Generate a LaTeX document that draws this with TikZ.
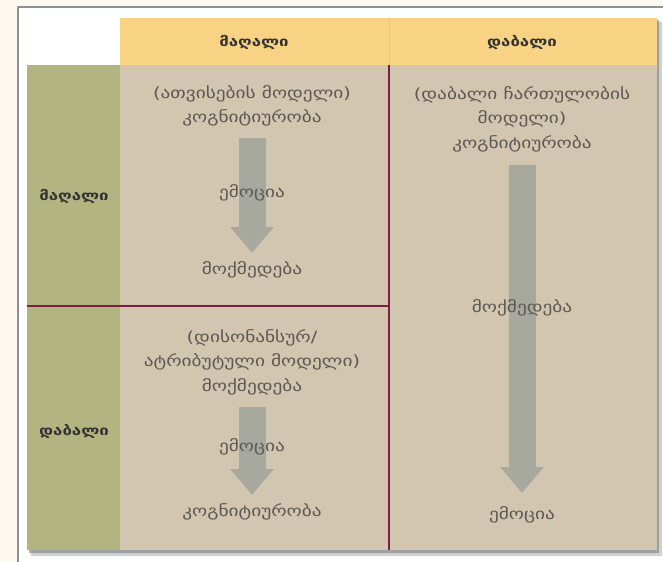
\documentclass[tikz,border=0pt]{standalone}
\usepackage{fontspec}
\setmainfont{DejaVu Sans}
\newfontfamily\geowide[FakeStretch=1.25]{DejaVu Sans}
\usepackage{tikz}
\usetikzlibrary{arrows.meta,positioning}

\definecolor{pagecream}{HTML}{FDF9F1}
\definecolor{framegrey}{HTML}{8E9093}
\definecolor{headyellow}{HTML}{F8D383}
\definecolor{rowgreen}{HTML}{B2B57F}
\definecolor{celltan}{HTML}{D3C6B1}
\definecolor{linemaroon}{HTML}{7D1F40}
\definecolor{arrowgrey}{HTML}{A7A99F}
\definecolor{celltext}{HTML}{5C5853}
\definecolor{shadowgrey}{HTML}{7E7F82}

\tikzset{
  celltxt/.style={font=\geowide\fontsize{15.5}{24.5}\selectfont,text=celltext,align=center,inner sep=0pt},
  headtxt/.style={font=\geowide\fontsize{13.5}{18}\selectfont\bfseries,text=black!80,inner sep=0pt},
  blockarrow/.style={draw=arrowgrey,line width=27bp,-{Triangle[width=42bp,length=26bp]}},
  divline/.style={linemaroon,line width=1.6bp}
}

\begin{document}
\begin{tikzpicture}[x=1bp,y=-1bp,line join=round]
      \useasboundingbox (0,0) rectangle (663,562);
      \clip (0,0) rectangle (663,562);
      \fill[pagecream] (0,0) rectangle (663,562);
      \draw[framegrey,line width=1.2bp,fill=white] (18,7) rectangle (700,600);

      % shadow
      \fill[shadowgrey,opacity=0.35] (124,22) rectangle (662,556) (31,69) rectangle (124,556);
      \fill[shadowgrey,opacity=0.6] (122,20) rectangle (659,553) (29,67) rectangle (122,553);

      % table
      \fill[headyellow] (120,18) rectangle (657,65);
      \fill[rowgreen] (27,65) rectangle (120,550);
      \fill[celltan] (120,65) rectangle (657,550);
      \draw[gray!45,line width=1bp] (389,18) -- (389,65);
      \draw[divline] (389,65) -- (389,550);
      \draw[divline] (27,306) -- (389,306);

      % arrows
      \coordinate (tlTop) at (252,138);
      \coordinate (tlTip) at (252,253);
      \coordinate (trTop) at (522,165);
      \coordinate (trTip) at (522,493);
      \coordinate (blTop) at (252,407);
      \coordinate (blTip) at (252,495);
      \draw[blockarrow] (tlTop) -- (tlTip);
      \draw[blockarrow] (trTop) -- (trTip);
      \draw[blockarrow] (blTop) -- (blTip);

      % headers
      \node[headtxt] (hHigh) at (254,42) {მაღალი};
      \node[headtxt] (hLow) at (522,42) {დაბალი};
      \node[headtxt] (rHigh) at (74,196) {მაღალი};
      \node[headtxt] (rLow) at (74,431) {დაბალი};

      % cells
      \node[celltxt] (tlModel) at (252,106) {(ათვისების მოდელი)\\კოგნიტიურობა};
      \node[celltxt] (tlEmo) at (252,193) {ემოცია};
      \node[celltxt] (tlAct) at (252,270) {მოქმედება};

      \node[celltxt] (trModel) at (522,119) {(დაბალი ჩართულობის\\მოდელი)\\კოგნიტიურობა};
      \node[celltxt] (trAct) at (522,308) {მოქმედება};
      \node[celltxt] (trEmo) at (522,515) {ემოცია};

      \node[celltxt] (blModel) at (252,362) {(დისონანსურ/\\ატრიბუტული მოდელი)\\მოქმედება};
      \node[celltxt] (blEmo) at (252,447) {ემოცია};
      \node[celltxt] (blCog) at (252,512) {კოგნიტიურობა};
\end{tikzpicture}
\end{document}
